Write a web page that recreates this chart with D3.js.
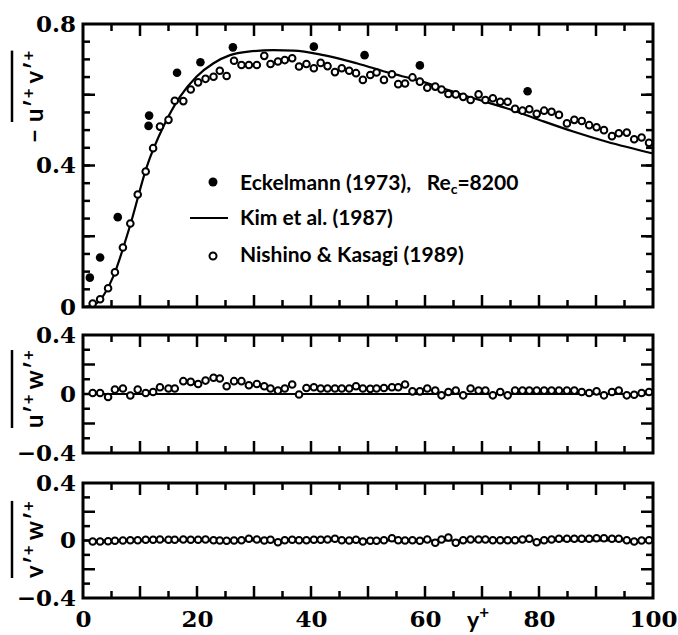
<!DOCTYPE html>
<html lang="en">
<head>
<meta charset="UTF-8">
<title>Reynolds shear stresses</title>
<script src="https://cdn.jsdelivr.net/npm/d3@7"></script>
<style>
  body { margin: 0; background: #fff; }
  .num { font-family: "DejaVu Serif", serif; font-weight: bold; font-size: 23px; }
  .lab { font-family: Lato, "Liberation Sans", sans-serif; font-weight: bold; }
</style>
</head>
<body>
<script>
// y+ of the Nishino & Kasagi points (same grid in all three panels)
var yPlus = [1.7, 3.0, 4.4, 5.6, 7.0, 8.3, 9.6, 11.0, 12.3, 13.5,
  15.0, 16.1, 17.6, 18.9, 20.2, 21.5, 22.9, 24.0, 25.2, 26.5,
  27.8, 29.1, 30.5, 31.8, 32.9, 34.2, 35.4, 36.7, 37.9, 39.2,
  40.5, 41.7, 42.9, 44.2, 45.4, 46.7, 47.9, 49.1, 50.4, 51.5,
  52.8, 54.2, 55.3, 56.5, 57.8, 59.1, 60.4, 61.8, 62.9, 64.1,
  65.4, 66.7, 68.0, 69.4, 70.6, 71.9, 73.2, 74.5, 75.8, 77.1,
  78.3, 79.6, 80.9, 82.2, 83.5, 84.9, 86.2, 87.5, 88.8, 90.1,
  91.4, 92.8, 94.0, 95.4, 96.7, 98.0, 99.3];

// -u'v'  Nishino & Kasagi (1989)
var uvNK = [0.010, 0.022, 0.053, 0.098, 0.168, 0.236, 0.318, 0.383, 0.449, 0.510,
  0.529, 0.583, 0.582, 0.615, 0.635, 0.645, 0.651, 0.668, 0.653, 0.696,
  0.684, 0.684, 0.684, 0.710, 0.687, 0.694, 0.698, 0.703, 0.680, 0.687,
  0.675, 0.690, 0.681, 0.664, 0.675, 0.668, 0.661, 0.642, 0.656, 0.663,
  0.642, 0.658, 0.630, 0.632, 0.649, 0.637, 0.620, 0.623, 0.615, 0.602,
  0.601, 0.594, 0.585, 0.601, 0.585, 0.590, 0.580, 0.580, 0.560, 0.555,
  0.559, 0.546, 0.555, 0.552, 0.543, 0.519, 0.529, 0.526, 0.514, 0.508,
  0.500, 0.483, 0.491, 0.493, 0.474, 0.479, 0.464];

// u'w'
var uwNK = [0.007, 0.007, -0.020, 0.030, 0.037, -0.010, 0.030, 0.007, 0.014, 0.046,
  0.037, 0.037, 0.087, 0.082, 0.068, 0.091, 0.110, 0.105, 0.053, 0.087,
  0.087, 0.059, 0.068, 0.053, 0.037, 0.023, 0.037, 0.064, -0.003, 0.041,
  0.046, 0.037, 0.037, 0.037, 0.037, 0.037, 0.053, 0.037, 0.035, 0.037,
  0.041, 0.046, 0.046, 0.064, 0.018, 0.018, 0.037, 0.023, -0.009, 0.014,
  0.023, -0.009, 0.037, 0.023, 0.023, -0.009, 0.014, -0.009, 0.023, 0.023,
  0.023, 0.023, 0.023, 0.023, 0.023, 0.023, 0.023, 0.014, 0.007, 0.018,
  -0.009, 0.014, 0.023, -0.009, -0.005, 0.007, 0.014];

// v'w'
var vwNK = [-0.007, -0.007, -0.005, -0.002, 0.000, 0.002, 0.002, 0.005, 0.005, 0.007,
  0.005, 0.005, 0.007, 0.005, 0.005, 0.007, 0.002, 0.000, -0.002, 0.000,
  0.002, 0.012, 0.007, 0.000, 0.005, -0.012, 0.002, 0.005, 0.002, 0.002,
  0.005, 0.005, 0.007, 0.012, 0.002, 0.000, 0.005, -0.007, -0.002, -0.002,
  0.002, 0.016, 0.002, 0.000, 0.002, -0.002, 0.007, -0.016, 0.007, 0.021,
  -0.016, 0.002, 0.007, 0.007, 0.007, 0.002, 0.002, 0.002, 0.002, 0.007,
  0.012, -0.012, 0.002, 0.007, 0.012, 0.012, 0.012, 0.012, 0.012, 0.016,
  0.016, 0.012, 0.012, 0.002, -0.007, 0.000, 0.002];

// Eckelmann (1973)
var eckX  = [1.2, 3.0, 6.1, 11.5, 11.6, 16.5, 20.6, 26.3, 40.5, 49.4, 59.1, 78.0];
var eckUV = [0.083, 0.140, 0.254, 0.512, 0.541, 0.662, 0.692, 0.734, 0.736, 0.712, 0.683, 0.610];

// Kim et al. (1987)
var kimX  = [0, 1.8, 3.0, 5.3, 8.2, 11.2, 14.1, 17.0, 19.9, 22.9, 25.8, 29.0, 33.4, 36.9,
  42.2, 48.0, 53.9, 58.5, 64.1, 68.5, 74.3, 80.2, 86.0, 91.9, 100];
var kimUV = [0, 0.005, 0.020, 0.086, 0.227, 0.397, 0.510, 0.594, 0.651, 0.689, 0.712, 0.722, 0.726, 0.725,
  0.712, 0.689, 0.661, 0.642, 0.613, 0.590, 0.562, 0.528, 0.496, 0.467, 0.434];
var kimFlatX = [0, 100];
var kimFlat  = [0, 0];

var xMinor = [5, 15, 25, 35, 45, 55, 65, 75, 85, 95];
var xMajor = [10, 20, 30, 40, 50, 60, 70, 80, 90];
var xLabels = [0, 20, 40, 60, 80, 100];

var svg = d3.select("body").append("svg").attr("width", 678).attr("height", 635);

var x = d3.scaleLinear().domain([0, 100]).range([83, 653]);
var yTop = d3.scaleLinear().domain([0, 0.8]).range([307, 24]);
var yMid = d3.scaleLinear().domain([-0.4, 0.4]).range([453, 335]);
var yBot = d3.scaleLinear().domain([-0.4, 0.4]).range([598, 483]);

function fmt(d) { return d === 0 ? "0" : (d < 0 ? "\u2212" : "") + Math.abs(d).toFixed(1); }

// inward tick marks; dir = +1 / -1 is the direction into the frame
function xTicks(vals, len, yPos, dir) {
  svg.append("g").selectAll("line").data(vals).join("line")
    .attr("x1", function(d) { return x(d); }).attr("x2", function(d) { return x(d); })
    .attr("y1", yPos).attr("y2", yPos + dir * len)
    .attr("stroke", "#000").attr("stroke-width", 2.5);
}
function yTicks(y, vals, len, xPos, dir) {
  svg.append("g").selectAll("line").data(vals).join("line")
    .attr("y1", function(d) { return y(d); }).attr("y2", function(d) { return y(d); })
    .attr("x1", xPos).attr("x2", xPos + dir * len)
    .attr("stroke", "#000").attr("stroke-width", 2.5);
}

function panel(y, yMinor, yMajor, yLab) {
  var y0 = y.range()[0], y1 = y.range()[1];
  xTicks(xMinor, 7, y0, -1);
  xTicks(xMajor, 12, y0, -1);
  xTicks(xMinor, 7, y1, 1);
  xTicks(xMajor, 12, y1, 1);
  yTicks(y, yMinor, 7, 83, 1);
  yTicks(y, yMajor, 12, 83, 1);
  yTicks(y, yMinor, 7, 653, -1);
  yTicks(y, yMajor, 12, 653, -1);
  svg.append("g").attr("transform", "translate(83,0)")
    .call(d3.axisLeft(y).tickValues(yLab).tickSize(0).tickPadding(7).tickFormat(fmt))
    .call(function(g) { g.select(".domain").remove(); })
    .selectAll("text").attr("class", "num").attr("fill", "#000");
  svg.append("rect").attr("x", 83).attr("y", y1).attr("width", 570).attr("height", y0 - y1)
    .attr("fill", "none").attr("stroke", "#000").attr("stroke-width", 3);
}

function kimLine(xs, ys, y) {
  var line = d3.line().x(function(d, i) { return x(xs[i]); })
    .y(function(d, i) { return y(ys[i]); }).curve(d3.curveMonotoneX);
  svg.append("path").datum(xs).attr("d", line)
    .attr("fill", "none").attr("stroke", "#000").attr("stroke-width", 2.2);
}

function openDots(vals, y) {
  svg.append("g").selectAll("circle").data(vals).join("circle")
    .attr("cx", function(d, i) { return x(yPlus[i]); })
    .attr("cy", function(d) { return y(d); })
    .attr("r", 3.3).attr("fill", "#fff").attr("stroke", "#000").attr("stroke-width", 2);
}

// top: -u'v'
panel(yTop, d3.range(1, 16).map(function(i) { return i * 0.05; }), [0.2, 0.4, 0.6], [0, 0.4, 0.8]);
kimLine(kimX, kimUV, yTop);
openDots(uvNK, yTop);
svg.append("g").selectAll("circle").data(eckUV).join("circle")
  .attr("cx", function(d, i) { return x(eckX[i]); })
  .attr("cy", function(d) { return yTop(d); })
  .attr("r", 4.3).attr("fill", "#000");

// middle: u'w'
panel(yMid, [-0.3, -0.1, 0.1, 0.3], [-0.2, 0, 0.2], [-0.4, 0, 0.4]);
kimLine(kimFlatX, kimFlat, yMid);
openDots(uwNK, yMid);

// bottom: v'w'
panel(yBot, [-0.3, -0.1, 0.1, 0.3], [-0.2, 0, 0.2], [-0.4, 0, 0.4]);
kimLine(kimFlatX, kimFlat, yBot);
openDots(vwNK, yBot);

// x tick labels
svg.append("g").attr("transform", "translate(0,598)")
  .call(d3.axisBottom(x).tickValues(xLabels).tickSize(0).tickPadding(13).tickFormat(d3.format("d")))
  .call(function(g) { g.select(".domain").remove(); })
  .selectAll("text").attr("class", "num").attr("fill", "#000");

// x title
var xt = svg.append("text").attr("class", "lab").attr("x", 467).attr("y", 628).attr("font-size", 23);
xt.append("tspan").text("y");
xt.append("tspan").attr("font-size", 17).attr("dy", -10).text("+");

// rotated y titles with overbar
function yTitle(tx, ty, minus, parts) {
  var g = svg.append("g").attr("transform", "translate(" + tx + "," + ty + ") rotate(-90)");
  var start = 0;
  if (minus) {
    g.append("text").attr("class", "lab").attr("font-size", 24).attr("x", 0).text("\u2212");
    start = 21;
  }
  var t = g.append("text").attr("class", "lab").attr("font-size", 24).attr("x", start);
  parts.forEach(function(p) {
    t.append("tspan").text(p[0]).attr("dx", p[1]).attr("dy", p[2]).attr("font-size", p[3]);
  });
  var bb = t.node().getBBox();
  g.append("line").attr("x1", bb.x).attr("x2", bb.x + bb.width).attr("y1", -31).attr("y2", -31)
    .attr("stroke", "#000").attr("stroke-width", 2.5);
}
function letterParts(a, b) {
  return [[a, 0, 0, 24], ["\u2032", 1, 0, 24], ["+", 1, -9, 17],
          [b, 5, 9, 24], ["\u2032", 1, 0, 24], ["+", 1, -9, 17]];
}
yTitle(43, 143, true, letterParts("u", "v"));
yTitle(43, 428, false, letterParts("u", "w"));
yTitle(43, 578, false, letterParts("v", "w"));

// legend
svg.append("circle").attr("cx", 213).attr("cy", 182).attr("r", 4.5).attr("fill", "#000");
svg.append("line").attr("x1", 190).attr("x2", 228).attr("y1", 218).attr("y2", 218)
  .attr("stroke", "#000").attr("stroke-width", 2.2);
svg.append("circle").attr("cx", 213).attr("cy", 256).attr("r", 3.5)
  .attr("fill", "#fff").attr("stroke", "#000").attr("stroke-width", 2);

var l1 = svg.append("text").attr("class", "lab").attr("x", 240).attr("y", 190).attr("font-size", 21);
l1.append("tspan").text("Eckelmann (1973),\u2002 Re");
l1.append("tspan").attr("font-size", 14).attr("dy", 4).text("c");
l1.append("tspan").attr("dy", -4).text("=8200");
svg.append("text").attr("class", "lab").attr("x", 240).attr("y", 225).attr("font-size", 21)
  .text("Kim et al. (1987)");
svg.append("text").attr("class", "lab").attr("x", 240).attr("y", 262).attr("font-size", 21)
  .text("Nishino & Kasagi (1989)");
</script>
</body>
</html>
